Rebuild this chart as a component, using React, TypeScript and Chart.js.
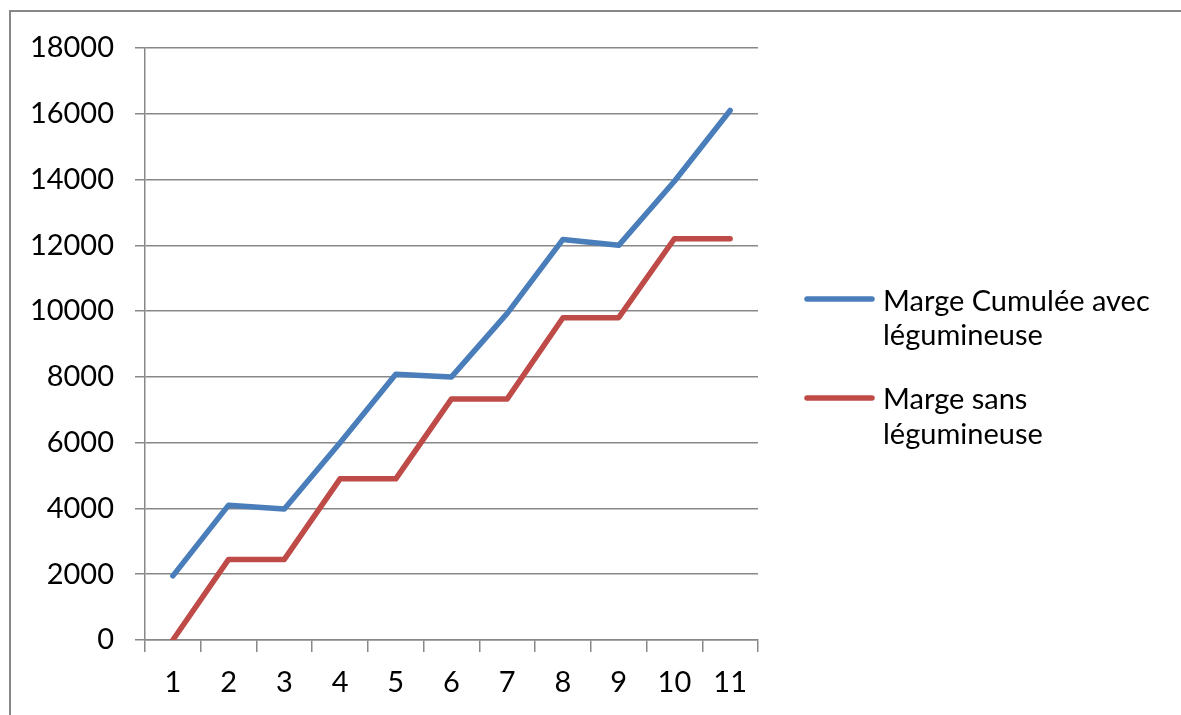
import React, { useEffect, useRef } from "react";
import { Chart, registerables } from "chart.js";

Chart.register(...registerables);

const categories = ["1", "2", "3", "4", "5", "6", "7", "8", "9", "10", "11"];
const avecLegumineuse = [1950, 4100, 3980, 6000, 8080, 8000, 9930, 12180, 12000, 13950, 16100];
const sansLegumineuse = [0, 2450, 2450, 4900, 4900, 7330, 7330, 9800, 9800, 12200, 12200];
const seriesLabels = [
  ["Marge Cumulée avec", "légumineuse"],
  ["Marge sans", "légumineuse"],
];
const seriesColors = ["#4a7ebb", "#be4b48"];

const FONT = 'Lato, "Noto Sans", sans-serif';
const FONT_SIZE = 29;

const legendPlugin = {
  id: "wrappedLegend",
  afterDraw(chart: any) {
    const ctx = chart.ctx;
    const area = chart.chartArea;
    const lineX0 = area.right + 49;
    const lineX1 = area.right + 114;
    const textX = area.right + 125;
    const blocks = [
      { lineY: 299, baselines: [311, 345] },
      { lineY: 398, baselines: [409, 444] },
    ];
    ctx.save();
    chart.data.datasets.forEach((ds: any, i: number) => {
      const b = blocks[i];
      ctx.strokeStyle = ds.borderColor;
      ctx.lineWidth = 5.5;
      ctx.lineCap = "round";
      ctx.beginPath();
      ctx.moveTo(lineX0, b.lineY);
      ctx.lineTo(lineX1, b.lineY);
      ctx.stroke();
      ctx.fillStyle = "#000";
      ctx.font = `${FONT_SIZE}px ${FONT}`;
      ctx.textAlign = "left";
      ctx.textBaseline = "alphabetic";
      seriesLabels[i].forEach((t, j) => ctx.fillText(t, textX, b.baselines[j]));
    });
    ctx.restore();
  },
};

export default function App() {
  const ref = useRef<HTMLCanvasElement | null>(null);
  useEffect(() => {
    if (!ref.current) return;
    const chart = new Chart(ref.current, {
      type: "line",
      data: {
        labels: categories,
        datasets: [
          {
            label: seriesLabels[0].join(" "),
            data: avecLegumineuse,
            borderColor: seriesColors[0],
            backgroundColor: seriesColors[0],
            borderWidth: 5.5,
            pointRadius: 0,
            borderCapStyle: "round",
            borderJoinStyle: "round",
            tension: 0,
          },
          {
            label: seriesLabels[1].join(" "),
            data: sansLegumineuse,
            borderColor: seriesColors[1],
            backgroundColor: seriesColors[1],
            borderWidth: 5.5,
            pointRadius: 0,
            borderCapStyle: "round",
            borderJoinStyle: "round",
            tension: 0,
          },
        ],
      },
      options: {
        responsive: false,
        animation: false,
        layout: { padding: { left: 0, top: 48, right: 423, bottom: 0 } },
        plugins: {
          legend: { display: false },
          tooltip: { enabled: false },
        },
        scales: {
          x: {
            type: "category",
            offset: true,
            grid: {
              offset: true,
              drawOnChartArea: false,
              drawTicks: true,
              tickLength: 12,
              color: "#888",
              lineWidth: 1.5,
            },
            border: { display: true, color: "#888", width: 1.5 },
            ticks: {
              color: "#000",
              font: { family: FONT, size: FONT_SIZE },
              padding: 13,
              maxRotation: 0,
              autoSkip: false,
            },
            afterFit: (s: any) => {
              s.height = 75;
            },
          },
          y: {
            min: 0,
            max: 18000,
            ticks: {
              stepSize: 2000,
              color: "#000",
              font: { family: FONT, size: FONT_SIZE },
              padding: 21,
              callback: (v: any) => String(v),
            },
            grid: {
              color: "#888",
              lineWidth: 1.5,
              drawTicks: true,
              tickLength: 10,
            },
            border: { display: true, color: "#888", width: 1.5 },
            afterFit: (s: any) => {
              s.width = 145;
            },
          },
        },
      },
      plugins: [legendPlugin],
    } as any);
    return () => chart.destroy();
  }, []);

  return (
    <div
      style={{
        position: "fixed",
        left: 0,
        top: 0,
        width: 1181,
        height: 715,
        overflow: "hidden",
        background: "#fff",
      }}
    >
      <div
        style={{
          position: "absolute",
          left: 9,
          top: 10,
          width: 1300,
          height: 800,
          borderLeft: "2px solid #878787",
          borderTop: "2px solid #878787",
        }}
      />
      <canvas
        ref={ref}
        width={1181}
        height={715}
        style={{ position: "absolute", left: 0, top: 0, width: 1181, height: 715 }}
      />
    </div>
  );
}
